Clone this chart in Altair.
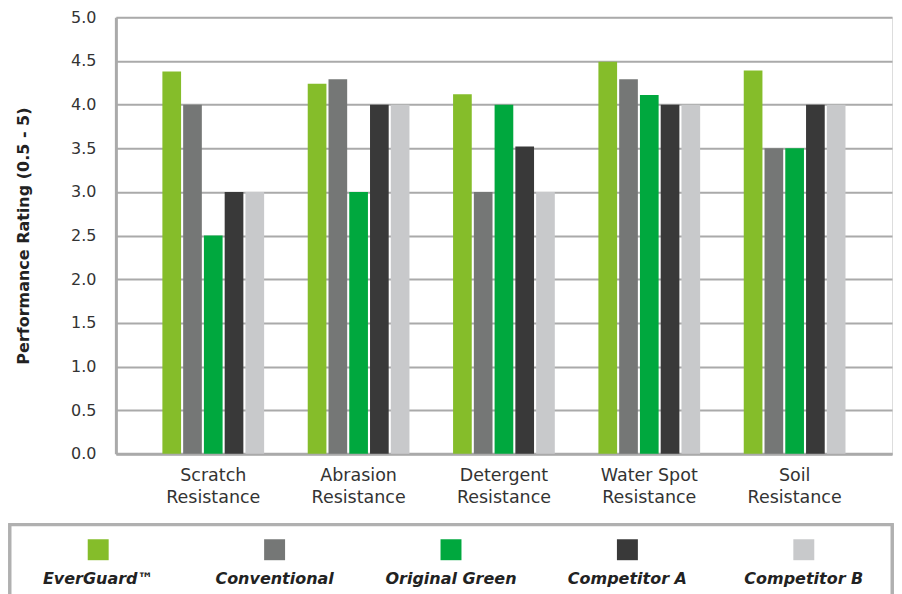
import altair as alt
import pandas as pd

categories = ["Scratch Resistance", "Abrasion Resistance", "Detergent Resistance",
              "Water Spot Resistance", "Soil Resistance"]
series = ["EverGuard™", "Conventional", "Original Green", "Competitor A", "Competitor B"]
colors = ["#85BD2A", "#757776", "#00A83E", "#393939", "#C8C9CB"]

everguard = [4.38, 4.24, 4.12, 4.49, 4.39]
conventional = [4.0, 4.29, 3.0, 4.29, 3.5]
original_green = [2.5, 3.0, 4.0, 4.11, 3.5]
competitor_a = [3.0, 4.0, 3.52, 4.0, 4.0]
competitor_b = [3.0, 4.0, 3.0, 4.0, 4.0]

y_ticks = [0, 0.5, 1.0, 1.5, 2.0, 2.5, 3.0, 3.5, 4.0, 4.5, 5.0]

values_by_series = [everguard, conventional, original_green, competitor_a, competitor_b]
rows = []
for s, vals in zip(series, values_by_series):
    for c, v in zip(categories, vals):
        rows.append({"category": c, "series": s, "value": v})
df = pd.DataFrame(rows)
legdf = pd.DataFrame({"series": series})

FONT = "DejaVu Sans"
W = 777
LEFT = 106
color_scale = alt.Scale(domain=series, range=colors)

bars = alt.Chart(df).mark_bar().encode(
    x=alt.X("category:N", sort=categories, title=None,
            scale=alt.Scale(paddingInner=0.3, paddingOuter=0.32),
            axis=alt.Axis(
                labelExpr="[substring(datum.label, 0, lastindexof(datum.label, ' ')), substring(datum.label, lastindexof(datum.label, ' ') + 1)]",
                labelAngle=0, labelFontSize=17.5, labelColor="#333", labelFont=FONT,
                labelLineHeight=22, labelPadding=13, ticks=False,
                domainColor="#aaaaaa", domainWidth=3)),
    xOffset=alt.XOffset("series:N", sort=series,
                        scale=alt.Scale(paddingInner=0.1, paddingOuter=0)),
    y=alt.Y("value:Q", scale=alt.Scale(domain=[0, 5], nice=False),
            axis=alt.Axis(values=y_ticks, format=".1f",
                          title="Performance Rating (0.5 - 5)",
                          titleFontSize=16, titleFontWeight="bold", titleColor="#222",
                          titleFont=FONT, titlePadding=39,
                          labelFontSize=16, labelColor="#333", labelFont=FONT,
                          labelPadding=20, ticks=False,
                          grid=True, gridColor="#aaaaaa", gridWidth=2,
                          domainColor="#aaaaaa", domainWidth=3)),
    color=alt.Color("series:N", scale=color_scale, legend=None),
).properties(width=W, height=437)

legend_box = alt.Chart(legdf).mark_rect(
    fill="white", stroke="#b0b0b0", strokeWidth=3
).encode(x=alt.value(-LEFT), x2=alt.value(W), y=alt.value(0), y2=alt.value(90))

leg_base = alt.Chart(legdf).encode(
    x=alt.X("series:N", sort=series, axis=None, title=None,
            scale=alt.Scale(range=[-LEFT, W], paddingInner=0, paddingOuter=0)),
)
squares = leg_base.mark_square(size=440, opacity=1, filled=True).encode(
    y=alt.value(25),
    color=alt.Color("series:N", scale=color_scale, legend=None),
)
texts = leg_base.mark_text(fontSize=16, fontWeight="bold", fontStyle="italic",
                           color="#222", font=FONT).encode(
    y=alt.value(54),
    text="series:N",
)
legend = alt.layer(legend_box, squares, texts).properties(
    width=W, height=80, view=alt.ViewConfig(stroke=None)
)

chart = alt.vconcat(bars, legend, spacing=16).properties(
    padding={"left": 0, "top": 0, "right": 0, "bottom": 0}
).configure_view(stroke="#aaaaaa", strokeWidth=2).configure(background="white")

chart.save("out.html", embed_options={"renderer": "svg", "actions": False})
